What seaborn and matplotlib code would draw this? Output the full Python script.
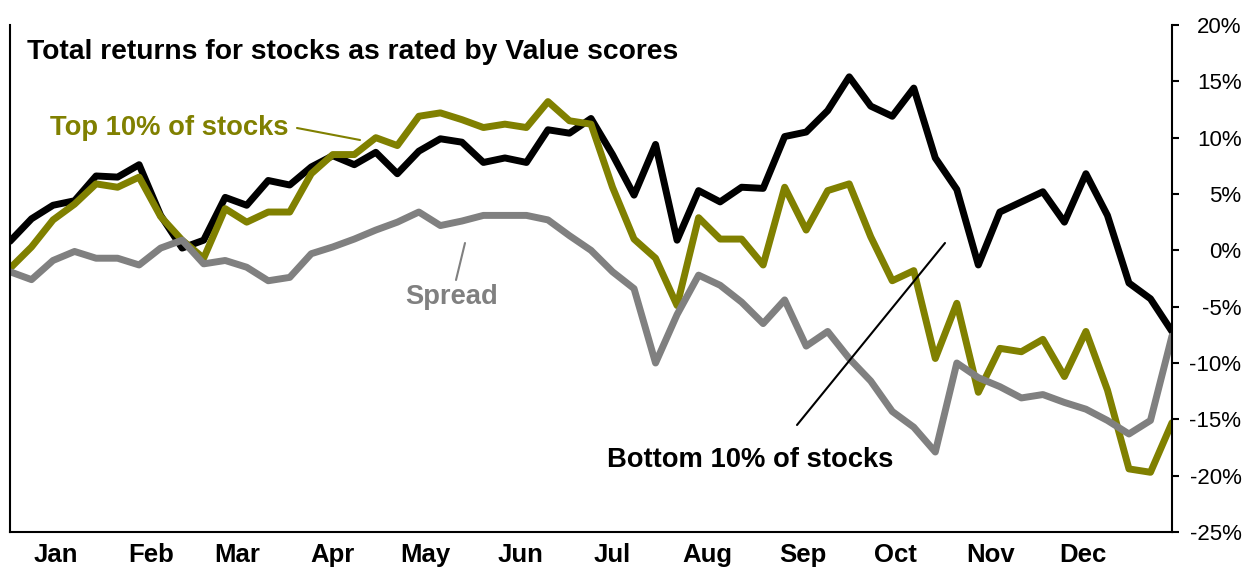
import matplotlib
matplotlib.use('Agg')
import matplotlib.pyplot as plt
import matplotlib.dates as mdates
from matplotlib.ticker import FuncFormatter, NullFormatter
import seaborn as sns
import pandas as pd

# weekly total returns (%)
bottom_10 = [0.8, 2.8, 4.0, 4.4, 6.6, 6.5, 7.6, 3.1, 0.2, 0.9,
             4.7, 4.0, 6.2, 5.8, 7.4, 8.4, 7.6, 8.7, 6.8, 8.8,
             9.9, 9.6, 7.8, 8.2, 7.8, 10.7, 10.4, 11.7, 8.5, 4.9,
             9.4, 0.9, 5.3, 4.3, 5.6, 5.5, 10.1, 10.5, 12.4, 15.4,
             12.8, 11.9, 14.4, 8.2, 5.4, -1.3, 3.4, 4.3, 5.2, 2.5,
             6.8, 3.1, -2.9, -4.3, -7.2]
top_10 = [-1.6, 0.3, 2.7, 4.1, 5.9, 5.6, 6.5, 3.0, 0.9, -0.7,
          3.7, 2.5, 3.4, 3.4, 6.8, 8.5, 8.5, 10.0, 9.3, 11.9,
          12.2, 11.6, 10.9, 11.2, 10.9, 13.2, 11.5, 11.2, 5.6, 1.0,
          -0.7, -4.9, 2.9, 1.0, 1.0, -1.3, 5.6, 1.8, 5.3, 5.9,
          1.2, -2.7, -1.8, -9.6, -4.7, -12.6, -8.7, -9.0, -7.9, -11.2,
          -7.2, -12.4, -19.4, -19.7, -15.3]
spread = [-1.9, -2.6, -0.9, -0.1, -0.7, -0.7, -1.3, 0.2, 0.9, -1.2,
          -0.9, -1.5, -2.7, -2.4, -0.3, 0.3, 1.0, 1.8, 2.5, 3.4,
          2.2, 2.6, 3.1, 3.1, 3.1, 2.7, 1.3, 0.0, -1.9, -3.4,
          -10.0, -5.7, -2.2, -3.1, -4.6, -6.5, -4.4, -8.5, -7.2, -9.6,
          -11.6, -14.3, -15.7, -17.9, -10.0, -11.3, -12.1, -13.1, -12.8, -13.5,
          -14.1, -15.1, -16.3, -15.1, -7.6]
weeks = pd.date_range('2010-01-01', periods=len(spread), freq='7D')
y_ticks = [-25, -20, -15, -10, -5, 0, 5, 10, 15, 20]

sns.set_style('white')
plt.rcParams['font.family'] = ['Liberation Sans', 'DejaVu Sans']
plt.rcParams['text.color'] = 'black'
plt.rcParams['xtick.color'] = 'black'
plt.rcParams['ytick.color'] = 'black'

fig = plt.figure(figsize=(12.58, 5.76), dpi=100)
ax = fig.add_axes([10 / 1258, 44 / 576, 1162 / 1258, 507 / 576])

sns.lineplot(x=weeks, y=bottom_10, color='black', lw=5, ax=ax)
sns.lineplot(x=weeks, y=top_10, color='#808000', lw=5, ax=ax)
sns.lineplot(x=weeks, y=spread, color='#808080', lw=5, ax=ax)

ax.set_xlim(weeks[0], weeks[-1])
ax.set_ylim(-25, 20)
ax.set_yticks(y_ticks)
ax.yaxis.tick_right()
ax.yaxis.set_major_formatter(FuncFormatter(lambda v, p: f'{v:.0f}%'))
ax.tick_params(axis='y', direction='out', length=5, width=1.5, pad=45,
               labelsize=16, colors='black')
for lbl in ax.get_yticklabels():
    lbl.set_ha('right')

ax.xaxis.set_major_locator(mdates.MonthLocator())
ax.xaxis.set_major_formatter(NullFormatter())
ax.xaxis.set_minor_locator(mdates.MonthLocator(bymonthday=16))
ax.xaxis.set_minor_formatter(mdates.DateFormatter('%b'))
ax.tick_params(axis='x', which='major', direction='out', length=9, width=1.5)
ax.tick_params(axis='x', which='minor', length=0, pad=8, labelsize=18.5,
               colors='black')
for lbl in ax.get_xticklabels(minor=True):
    lbl.set_fontweight('bold')

for side in ['left', 'bottom', 'right']:
    ax.spines[side].set_color('black')
    ax.spines[side].set_linewidth(1.5)
ax.spines['top'].set_visible(False)
ax.set_xlabel('')
ax.set_ylabel('')

def fx(px):
    return (px - 10) / 1162

def fy(py):
    return (532 - py) / 507

ax.text(fx(27), fy(52), 'Total returns for stocks as rated by Value scores',
        transform=ax.transAxes, fontsize=20.3, fontweight='bold', va='center')
ax.text(fx(50), fy(128), 'Top 10% of stocks', transform=ax.transAxes,
        fontsize=19.7, fontweight='bold', color='#808000', va='center')
ax.plot([fx(297), fx(360)], [fy(128), fy(140)], transform=ax.transAxes,
        color='#808000', lw=1.5)
ax.text(fx(405), fy(297), 'Spread', transform=ax.transAxes,
        fontsize=19.7, fontweight='bold', color='#808080', va='center')
ax.plot([fx(456), fx(465)], [fy(280), fy(243)], transform=ax.transAxes,
        color='#808080', lw=1.5)
ax.text(fx(607), fy(460), 'Bottom 10% of stocks', transform=ax.transAxes,
        fontsize=19.7, fontweight='bold', color='black', va='center', zorder=5)
ax.plot([fx(797), fx(945)], [fy(425), fy(243)], transform=ax.transAxes,
        color='black', lw=1.5, zorder=5)

plt.savefig('out.png', dpi=100)
